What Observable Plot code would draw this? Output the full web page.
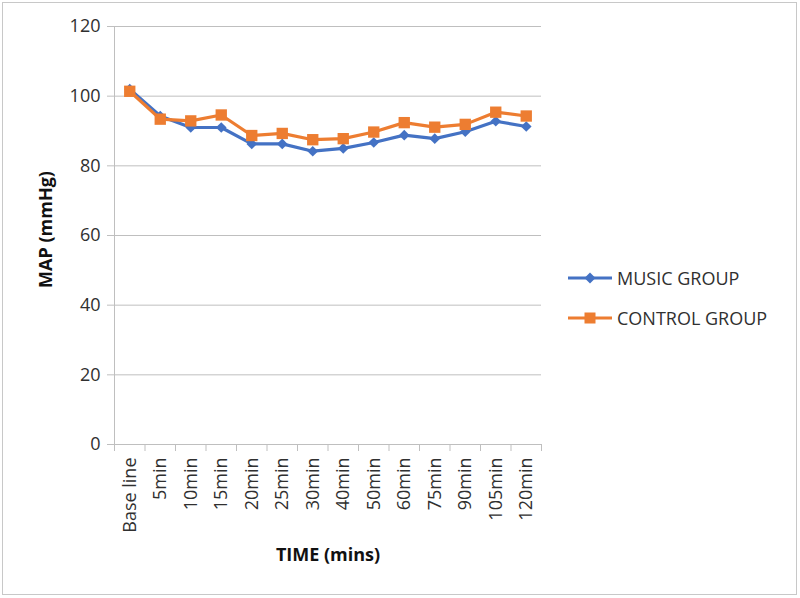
<!DOCTYPE html>
<html><head><meta charset="utf-8">
<script src="https://cdn.jsdelivr.net/npm/d3@7"></script>
<script src="https://cdn.jsdelivr.net/npm/@observablehq/plot@0.6"></script>
<style>
body{margin:0;background:#fff;}
#wrap{position:relative;width:800px;height:598px;font-family:"Open Sans",sans-serif;}
#border{position:absolute;left:2px;top:2px;width:795px;height:593px;border:1px solid #c8c8c8;box-sizing:border-box;pointer-events:none}
#legend{position:absolute;left:568px;top:258px;font-size:18px;color:#303030}
.item{display:flex;align-items:center;height:40px}
.item svg{margin-right:5px}
</style></head>
<body>
<div id="wrap"><div id="border"></div><div id="legend"></div></div>
<script>
const categories = ["Base line","5min","10min","15min","20min","25min","30min","40min","50min","60min","75min","90min","105min","120min"];
const music   = [102.0, 94.3, 91.0, 91.0, 86.3, 86.3, 84.2, 85.0, 86.7, 88.8, 87.8, 89.8, 92.8, 91.3];
const control = [101.4, 93.4, 92.9, 94.6, 88.7, 89.3, 87.5, 87.8, 89.7, 92.4, 91.1, 91.9, 95.4, 94.3];
const yTicks = [0, 20, 40, 60, 80, 100, 120];
const seriesNames = ["MUSIC GROUP", "CONTROL GROUP"];
const colors = ["#4472C4", "#ED7D31"];

const musicData = music.map((v, i) => ({x: i + 0.5, y: v}));
const controlData = control.map((v, i) => ({x: i + 0.5, y: v}));
const grey = "#bfbfbf";
const textColor = "#303030";

const chart = Plot.plot({
  width: 800, height: 598,
  marginLeft: 114, marginRight: 259, marginTop: 26, marginBottom: 154,
  style: {fontFamily: "'Open Sans', sans-serif", fontSize: "18px", background: "transparent"},
  x: {type: "linear", domain: [0, categories.length]},
  y: {domain: [0, 120]},
  marks: [
    Plot.gridY(yTicks, {stroke: grey, strokeOpacity: 1}),
    Plot.ruleX([0], {stroke: grey}),
    Plot.ruleY([0], {stroke: grey}),
    Plot.axisY({ticks: yTicks, tickSize: 7, tickPadding: 7, stroke: grey, strokeOpacity: 1, fill: textColor, label: null, fontSize: 18}),
    Plot.axisX({ticks: d3.range(categories.length + 1), tickSize: 7, stroke: grey, strokeOpacity: 1, tickFormat: () => "", label: null}),
    Plot.axisX({ticks: categories.map((c, i) => i + 0.5), tickFormat: (d) => categories[Math.floor(d)], tickSize: 0, tickPadding: 13, tickRotate: -90, fill: textColor, label: null, fontSize: 18}),
    Plot.line(musicData, {x: "x", y: "y", stroke: colors[0], strokeWidth: 3.2}),
    Plot.dot(musicData, {x: "x", y: "y", symbol: "diamond2", r: 4.8, fill: colors[0], stroke: "none"}),
    Plot.line(controlData, {x: "x", y: "y", stroke: colors[1], strokeWidth: 3.2}),
    Plot.dot(controlData, {x: "x", y: "y", symbol: "square", r: 6.4, fill: colors[1], stroke: "none"}),
    Plot.text(["MAP (mmHg)"], {frameAnchor: "left", dx: -68, dy: -6, textAnchor: "middle", rotate: -90, fontWeight: "bold", fontSize: 18, fill: "#111"}),
    Plot.text(["TIME (mins)"], {frameAnchor: "bottom", dy: 116, fontWeight: "bold", fontSize: 18, fill: "#111"})
  ]
});
document.getElementById("wrap").prepend(chart);

const legend = document.getElementById("legend");
seriesNames.forEach((name, i) => {
  const item = document.createElement("div");
  item.className = "item";
  const sym = i === 0
    ? `<path d="M22,12.5 L27.5,18 L22,23.5 L16.5,18 Z" fill="${colors[i]}"/>`
    : `<rect x="16.5" y="12.5" width="11" height="11" fill="${colors[i]}"/>`;
  item.innerHTML = `<svg width="44" height="36"><line x1="0" x2="44" y1="18" y2="18" stroke="${colors[i]}" stroke-width="3"/>${sym}</svg><span>${name}</span>`;
  legend.appendChild(item);
});
</script>
</body></html>
